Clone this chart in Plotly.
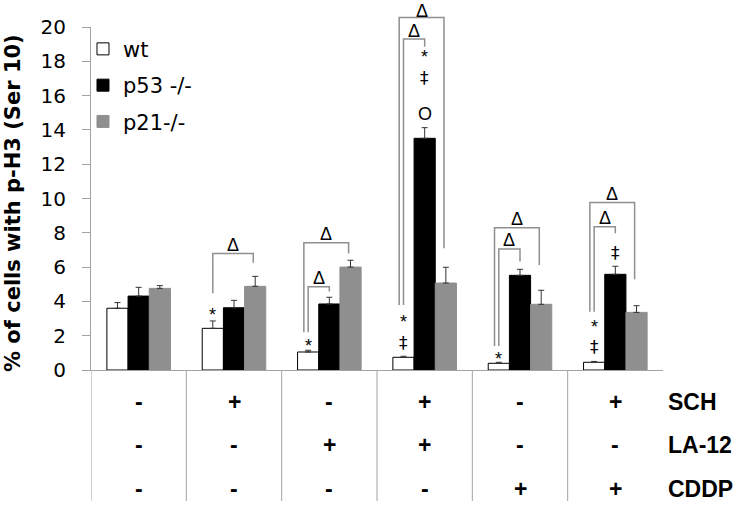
import plotly.graph_objects as go

# ---------------- data ----------------
groups = [0, 1, 2, 3, 4, 5]
series_names = ["wt", "p53 -/-", "p21-/-"]

wt = [3.60, 2.43, 1.05, 0.74, 0.39, 0.45]
wt_err = [0.33, 0.43, 0.10, 0.06, 0.06, 0.05]
p53 = [4.31, 3.63, 3.85, 13.51, 5.52, 5.58]
p53_err = [0.51, 0.43, 0.39, 0.62, 0.35, 0.47]
p21 = [4.76, 4.88, 6.00, 5.07, 3.83, 3.36]
p21_err = [0.16, 0.58, 0.40, 0.92, 0.82, 0.39]

row_labels = ["SCH", "LA-12", "CDDP"]
sch = ["-", "+", "-", "+", "-", "+"]
la12 = ["-", "-", "+", "+", "-", "-"]
cddp = ["-", "-", "-", "-", "+", "+"]

y_title = "% of cells with p-H3 (Ser 10)"
y_ticks = [0, 2, 4, 6, 8, 10, 12, 14, 16, 18, 20]

# significance brackets: group, from-series, to-series, left-leg bottom, top, right-leg bottom
br_group = [1, 2, 2, 3, 3, 4, 4, 5, 5]
br_from = [0, 0, 0, 0, 0, 0, 0, 0, 0]
br_to = [2, 2, 1, 2, 1, 2, 1, 2, 1]
br_left = [4.47, 2.20, 2.20, 3.79, 3.79, 1.40, 1.40, 3.40, 3.40]
br_top = [6.80, 7.42, 4.86, 20.56, 19.30, 8.30, 7.06, 9.76, 8.36]
br_right = [6.26, 6.80, 4.57, 7.10, 18.85, 6.12, 6.32, 5.29, 7.97]
br_label = "Δ"

# marks above bars: group, series, symbol, value
mk_group = [1, 2, 3, 3, 3, 3, 3, 4, 5, 5, 5]
mk_series = [0, 0, 0, 0, 1, 1, 1, 0, 0, 0, 1]
mk_text = ["*", "*", "*", "‡", "*", "‡", "O", "*", "*", "‡", "‡"]
mk_value = [3.46, 1.65, 3.05, 1.59, 18.46, 17.0, 14.93, 0.87, 2.76, 1.36, 6.84]

# ---------------- layout constants ----------------
W, H = 743, 505
ML, MR, MT, MB = 91, 80, 27, 135
PLOT_H = H - MT - MB
YMAX = 20
BARGAP = 1 / 3
NSER = 3
BW = (1 - BARGAP) / NSER
GRAY = "#8f8f8f"
AXIS = "#a3a3a3"
DELTA_SIZE = 18


def px2paper(px):
    return px / PLOT_H


def yp(v):
    return v / YMAX


def xpos(g, s):
    return g + (s - (NSER - 1) / 2) * BW


fig = go.Figure()
vals = [wt, p53, p21]
errs = [wt_err, p53_err, p21_err]
fills = ["white", "black", GRAY]
lines = ["black", "black", GRAY]
for i in range(NSER):
    fig.add_trace(go.Bar(
        x=groups, y=vals[i], name=series_names[i],
        legendgroup=series_names[i],
        marker=dict(color=fills[i], line=dict(color=lines[i], width=1)),
        error_y=dict(type="data", array=errs[i], arrayminus=[0] * len(groups),
                     symmetric=False, color="#333333", thickness=1, width=3),
    ))

shapes = []
annotations = []

# brackets
top_limit = 1 + px2paper(MT - 10.6)  # keep the label box inside the page
n_in_group = {g: br_group.count(g) for g in br_group}
for k in range(len(br_group)):
    g = br_group[k]
    shift = -0.045 if (n_in_group[g] > 1 and br_to[k] == 2) else 0.0
    xl = xpos(g, br_from[k]) + shift
    xr = xpos(g, br_to[k]) - (0.02 if br_to[k] == 2 else 0)
    path = "M {} {} L {} {} L {} {} L {} {}".format(
        xl, yp(br_left[k]), xl, yp(br_top[k]), xr, yp(br_top[k]), xr, yp(br_right[k]))
    shapes.append(dict(type="path", path=path, xref="x", yref="paper",
                       line=dict(color=GRAY, width=1.5)))
    ylab = min(yp(br_top[k]) + px2paper(8.5), top_limit)
    annotations.append(dict(x=(xl + xr) / 2, y=ylab, xref="x", yref="paper",
                            text=br_label, showarrow=False, xanchor="center", yanchor="middle",
                            font=dict(family="Liberation Sans", size=DELTA_SIZE, color="black")))

# symbols
for k in range(len(mk_group)):
    t = mk_text[k]
    dy = -px2paper(4) if t == "*" else 0
    fam = "DejaVu Sans" if t == "‡" else "Liberation Sans"
    annotations.append(dict(x=xpos(mk_group[k], mk_series[k]), y=yp(mk_value[k]) + dy,
                            xref="x", yref="paper", text=t, showarrow=False,
                            xanchor="center", yanchor="middle",
                            font=dict(family=fam, size=17 if t == "‡" else 18, color="black")))

# table separators
for g in groups:
    shapes.append(dict(type="line", xref="x", yref="paper", x0=g - 0.5, x1=g - 0.5,
                       y0=0, y1=-px2paper(131), line=dict(color=AXIS, width=1)))

# table text
row_px = [32, 75, 119]
rows = [sch, la12, cddp]
for r in range(3):
    for g in groups:
        annotations.append(dict(x=g, y=-px2paper(row_px[r]), xref="x", yref="paper",
                                text=rows[r][g], showarrow=False, xanchor="center", yanchor="middle",
                                font=dict(family="Liberation Sans", size=23, color="black", weight="bold")))
    annotations.append(dict(x=1.0, y=-px2paper(row_px[r]), xref="paper", yref="paper",
                            xshift=3, text=row_labels[r], showarrow=False, xanchor="left",
                            yanchor="middle",
                            font=dict(family="Liberation Sans", size=23, color="black", weight="bold")))

# y title
annotations.append(dict(x=-78 / (W - ML - MR), y=px2paper(167), xref="paper", yref="paper",
                        text=y_title, textangle=-90, showarrow=False, xanchor="center",
                        yanchor="middle",
                        font=dict(family="DejaVu Sans", size=21, color="black", weight="bold")))

fig.update_layout(
    width=W, height=H,
    margin=dict(l=ML, r=MR, t=MT, b=MB, pad=0),
    paper_bgcolor="white", plot_bgcolor="white",
    barmode="group", bargap=BARGAP, bargroupgap=0,
    showlegend=True,
    legend=dict(x=-0.014, y=0.995, xanchor="left", yanchor="top",
                bgcolor="rgba(0,0,0,0)", tracegroupgap=6,
                font=dict(family="DejaVu Sans", size=21, color="black")),
    xaxis=dict(range=[-0.5, 5.5], showline=True, linecolor=AXIS, linewidth=1,
               showticklabels=False, ticks="", showgrid=False, zeroline=False),
    yaxis=dict(range=[0, YMAX], tickvals=y_ticks, showline=True, linecolor=AXIS, linewidth=1,
               ticks="outside", ticklen=8, tickcolor=AXIS, showgrid=False, zeroline=False,
               ticklabelstandoff=12,
               tickfont=dict(family="DejaVu Sans", size=20, color="black")),
    shapes=shapes, annotations=annotations,
)

fig.write_html("out.html", config={"displayModeBar": False},
               post_script="document.body.style.margin='0';")
